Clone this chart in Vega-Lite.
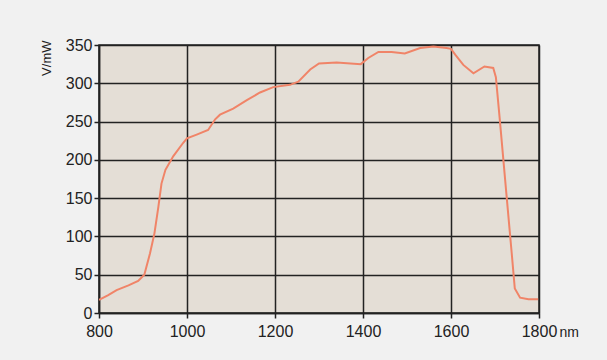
{
  "$schema": "https://vega.github.io/schema/vega-lite/v6.json",
  "width": 440,
  "height": 268,
  "autosize": {"type": "none"},
  "padding": {"left": 99, "top": 45, "right": 68, "bottom": 47},
  "background": "#f1f1f1",
  "config": {
    "view": {"fill": "#e4ded6", "stroke": "#222222", "strokeWidth": 1.5},
    "font": "Liberation Sans"
  },
  "data": {
    "values": [
      {"nm": 800, "v": 17}, {"nm": 820, "v": 23}, {"nm": 840, "v": 30}, {"nm": 867, "v": 36},
      {"nm": 889, "v": 42}, {"nm": 903, "v": 50}, {"nm": 916, "v": 78}, {"nm": 926, "v": 104},
      {"nm": 935, "v": 139}, {"nm": 942, "v": 169}, {"nm": 951, "v": 187}, {"nm": 969, "v": 205},
      {"nm": 991, "v": 222}, {"nm": 1000, "v": 228}, {"nm": 1022, "v": 233}, {"nm": 1048, "v": 239},
      {"nm": 1064, "v": 253}, {"nm": 1075, "v": 259}, {"nm": 1105, "v": 267}, {"nm": 1136, "v": 278},
      {"nm": 1166, "v": 288}, {"nm": 1196, "v": 295}, {"nm": 1234, "v": 298}, {"nm": 1253, "v": 302},
      {"nm": 1280, "v": 318}, {"nm": 1300, "v": 326}, {"nm": 1340, "v": 327}, {"nm": 1395, "v": 325},
      {"nm": 1412, "v": 333}, {"nm": 1435, "v": 341}, {"nm": 1465, "v": 341}, {"nm": 1495, "v": 339},
      {"nm": 1530, "v": 346}, {"nm": 1560, "v": 348}, {"nm": 1590, "v": 346}, {"nm": 1600, "v": 345},
      {"nm": 1610, "v": 337}, {"nm": 1628, "v": 324}, {"nm": 1651, "v": 313}, {"nm": 1676, "v": 322},
      {"nm": 1696, "v": 320}, {"nm": 1702, "v": 308}, {"nm": 1711, "v": 252}, {"nm": 1726, "v": 155},
      {"nm": 1738, "v": 78}, {"nm": 1745, "v": 32}, {"nm": 1757, "v": 20}, {"nm": 1776, "v": 18},
      {"nm": 1798, "v": 18}
    ]
  },
  "mark": {"type": "line", "color": "#f08468", "strokeWidth": 2, "clip": true},
  "encoding": {
    "x": {
      "field": "nm", "type": "quantitative",
      "scale": {"domain": [800, 1800], "nice": false, "zero": false},
      "axis": {
        "values": [800, 1000, 1200, 1400, 1600, 1800],
        "format": "d",
        "title": "nm",
        "titleX": 460, "titleY": 23, "titleAlign": "left", "titleBaseline": "alphabetic",
        "titleFontSize": 14, "titleFontWeight": "normal", "titleColor": "#222222", "titleFont": "Liberation Sans",
        "labelFontSize": 16, "labelColor": "#222222", "labelPadding": 5, "labelFont": "Liberation Sans",
        "labelFlush": false,
        "grid": true, "gridColor": "#222222", "gridWidth": 1.5, "gridOpacity": 1,
        "domainColor": "#222222", "domainWidth": 1.5,
        "tickColor": "#222222", "tickSize": 5, "tickWidth": 1.5
      }
    },
    "y": {
      "field": "v", "type": "quantitative",
      "scale": {"domain": [0, 350], "nice": false},
      "axis": {
        "values": [0, 50, 100, 150, 200, 250, 300, 350],
        "title": "V/mW",
        "titleAnchor": "end", "titleX": -53, "titleY": -5, "titleAlign": "right", "titleBaseline": "middle", "titleAngle": 270,
        "titleFontSize": 13, "titleFontWeight": "normal", "titleColor": "#222222", "titleFont": "Liberation Sans",
        "labelFontSize": 16, "labelColor": "#222222", "labelPadding": 2, "labelFont": "Liberation Sans",
        "labelFlush": false,
        "grid": true, "gridColor": "#222222", "gridWidth": 1.5, "gridOpacity": 1,
        "domainColor": "#222222", "domainWidth": 1.5,
        "tickColor": "#222222", "tickSize": 5, "tickWidth": 1.5
      }
    }
  }
}
